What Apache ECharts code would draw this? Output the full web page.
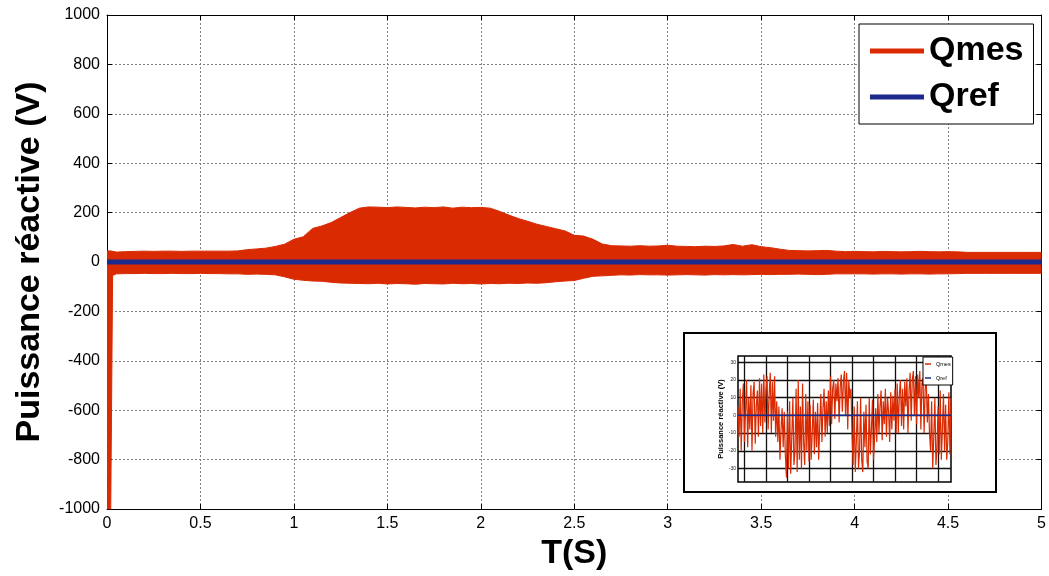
<!DOCTYPE html>
<html>
<head>
<meta charset="utf-8">
<script src="https://cdn.jsdelivr.net/npm/echarts@6/dist/echarts.min.js"></script>
<style>
  html, body { margin: 0; padding: 0; background: #fff; }
  #chart { width: 1049px; height: 576px; }
</style>
</head>
<body>
<div id="chart"></div>
<script>
// Time samples (s) for the envelope of the measured reactive power
const timeS = [0, 0.02, 0.03,
  0.05, 0.10, 0.15, 0.20, 0.25, 0.30, 0.35, 0.40, 0.45, 0.50, 0.55, 0.60, 0.65, 0.70, 0.75, 0.80, 0.85, 0.90, 0.95, 1.00,
  1.05, 1.10, 1.15, 1.20, 1.25, 1.30, 1.35, 1.40, 1.45, 1.50, 1.55, 1.60, 1.65, 1.70, 1.75, 1.80, 1.85, 1.90, 1.95, 2.00,
  2.05, 2.10, 2.15, 2.20, 2.25, 2.30, 2.35, 2.40, 2.45, 2.50, 2.55, 2.60, 2.65, 2.70, 2.75, 2.80, 2.85, 2.90, 2.95, 3.00,
  3.05, 3.10, 3.15, 3.20, 3.25, 3.30, 3.35, 3.40, 3.45, 3.50, 3.55, 3.60, 3.65, 3.70, 3.75, 3.80, 3.85, 3.90, 3.95, 4.00,
  4.05, 4.10, 4.15, 4.20, 4.25, 4.30, 4.35, 4.40, 4.45, 4.50, 4.55, 4.60, 4.65, 4.70, 4.75, 4.80, 4.85, 4.90, 4.95, 5.00];

// Upper and lower peaks of Qmes (the fast oscillation fills the band between them)
const qmesUpper = [45, 45, 42,
  40, 42, 43, 44, 43, 44, 44, 43, 44, 44, 44, 44, 44, 45, 50, 53, 56, 63, 72, 92,
  102, 136, 146, 160, 180, 200, 218, 223, 222, 220, 223, 221, 219, 222, 220, 223, 218, 222, 220, 221,
  218, 205, 190, 176, 165, 153, 144, 135, 126, 108, 105, 92, 73, 66, 65, 64, 66, 64, 65, 68,
  64, 63, 62, 64, 63, 65, 71, 64, 70, 62, 58, 52, 47, 46, 45, 46, 47, 44, 42, 43,
  42, 41, 43, 42, 41, 42, 43, 42, 41, 42, 41, 39, 39, 39, 39, 39, 39, 39, 39, 39];
const qmesLower = [-1000, -1000, -55,
  -48, -47, -47, -46, -47, -47, -46, -47, -47, -46, -47, -47, -48, -48, -50, -49, -50, -52, -60, -70,
  -74, -77, -78, -82, -85, -86, -87, -88, -86, -89, -87, -88, -90, -87, -88, -89, -86, -88, -87, -89,
  -87, -88, -86, -87, -85, -86, -84, -80, -77, -75, -66, -58, -56, -54, -52, -53, -51, -52, -52, -53,
  -52, -51, -52, -53, -51, -52, -51, -52, -51, -50, -51, -50, -50, -49, -50, -51, -50, -48, -48, -48,
  -48, -49, -48, -48, -49, -48, -48, -49, -48, -48, -47, -46, -46, -46, -46, -46, -46, -46, -46, -46];

// Reference reactive power
const qrefT = [0, 5];
const qrefV = [0, 0];

// Zoomed view: Qmes samples and reference
const insetQmes = [
  5, -12, 15, -20, 8, 18, -15, 3, 20, -18, 10, -8, 17, -20, 12, 19, -16, 5, 14, -12,
  21, -6, 18, -10, 23, -4, 15, 22, -8, 12, 24, -10, 19, -3, 22, -12, 8, -15, 5,
  -25, -8, 4, -18, 2, -22,
  -35, 2, -30, 8, -33, -12, 10, -28, -20,
  15, -32, 20, -25, 5, -30, 18, -15, -28, 12, -20, 8, -26,
  6, -25, -10, 9, -22, 2, -18, 7, -25, -5,
  12, -15, 4, 15, -12, 8, -10, 14, -6,
  22, -5, 15, 20, -2, 18, 8, 21, -4, 16, 23, 2, 19,
  25, 0, 24, -8, 20, 10,
  15, -10,
  -28, 5, -32, -15, 8, -30, -20, 10, -25, -32, 2, -18, 6, -26,
  -30, 10, -22, -8, 9, -25, -12, 4,
  -15, 12, -10, 5, 14, -14, 8, -5, 15, -12, 10, 2, -15, 13, -8, 11, -3, 15, -10,
  18, -10, 12, 20, -6, 15, -8, 19, 5, 21, -10, 14,
  24, -3, 20, 25, 0, 22,
  -5, 23, 10, 25, -8, 18, 21, -10, 15, 20, -4, 12, -10,
  -20, 8, -30, -12, 10, -28, -18, 5, -22, 14, -25, -8, 12, -20, 6, -25, -15, 13, -22, 10];
const insetQrefX = [0, 198];
const insetQrefV = [0, 0];
const insetYTicks = [-30, -20, -10, 0, 10, 20, 30];
const insetXGrid = [6, 26, 46, 66, 86, 106, 126, 146, 166, 186];

const FONT = '"Liberation Sans", Arial, Helvetica, sans-serif';
const RED = '#d92a02';
const BLUE = '#1b2a8c';
const zip = (xs, ys) => xs.map((x, i) => [x, ys[i]]);
const plain = v => String(v);

const chart = echarts.init(document.getElementById('chart'), null, { renderer: 'canvas' });

const gridLine = { show: true, lineStyle: { color: '#808080', width: 1, type: [2, 2] } };

const option = {
  animation: false,
  backgroundColor: '#fff',
  textStyle: { fontFamily: FONT },
  grid: [
    { left: 107, right: 6, top: 15, bottom: 65, show: false },
    { left: 738, top: 356, width: 213, height: 126, show: true, borderColor: '#000', borderWidth: 1.5,
      backgroundColor: 'transparent', z: 12 }
  ],
  graphic: [{
    type: 'rect', z: 10,
    shape: { x: 684, y: 333, width: 312, height: 159 },
    style: { fill: '#fff', stroke: '#000', lineWidth: 2 }
  }],
  legend: [
    {
      data: ['Qmes', 'Qref'], orient: 'vertical', left: 859, top: 24,
      padding: [10, 10, 10, 11], itemGap: 12, itemWidth: 54, itemHeight: 5, icon: 'rect',
      backgroundColor: '#fff', borderColor: '#000', borderWidth: 1, selectedMode: false, z: 6,
      textStyle: { fontFamily: FONT, fontSize: 34, lineHeight: 33, fontWeight: 'bold', color: '#000' }
    },
    {
      data: ['Qmes', 'Qref'], orient: 'vertical', left: 923, top: 357,
      padding: [4, 2, 4, 2], itemGap: 8, itemWidth: 6, itemHeight: 1.5, icon: 'rect',
      backgroundColor: '#fff', borderColor: '#000', borderWidth: 1, selectedMode: false, z: 20,
      textStyle: { fontFamily: FONT, fontSize: 5.5, lineHeight: 6, color: '#000' }
    }
  ],
  xAxis: [
    {
      gridIndex: 0, type: 'value', min: 0, max: 5, interval: 0.5, position: 'bottom',
      axisLine: { show: true, onZero: false, lineStyle: { color: '#000', width: 1 } },
      axisTick: { show: true, inside: true, length: 5, lineStyle: { color: '#000' } },
      axisLabel: { fontSize: 16, color: '#000', margin: 7, fontFamily: FONT, formatter: plain },
      splitLine: gridLine,
      name: 'T(S)', nameLocation: 'middle', nameGap: 28,
      nameTextStyle: { fontSize: 34, fontWeight: 'bold', color: '#000', fontFamily: FONT }
    },
    {
      gridIndex: 0, type: 'value', min: 0, max: 5, interval: 0.5, position: 'top',
      axisLine: { show: true, onZero: false, lineStyle: { color: '#000', width: 1 } },
      axisTick: { show: true, inside: true, length: 5, lineStyle: { color: '#000' } },
      axisLabel: { show: false }, splitLine: { show: false }
    },
    {
      gridIndex: 1, type: 'value', min: 0, max: 198, show: false
    }
  ],
  yAxis: [
    {
      gridIndex: 0, type: 'value', min: -1000, max: 1000, interval: 200, position: 'left',
      axisLine: { show: true, onZero: false, lineStyle: { color: '#000', width: 1 } },
      axisTick: { show: true, inside: true, length: 5, lineStyle: { color: '#000' } },
      axisLabel: { fontSize: 16, color: '#000', margin: 7, fontFamily: FONT, formatter: plain },
      splitLine: gridLine,
      name: 'Puissance réactive (V)', nameLocation: 'middle', nameGap: 60, nameRotate: 90,
      nameTextStyle: { fontSize: 34, fontWeight: 'bold', color: '#000', fontFamily: FONT }
    },
    {
      gridIndex: 0, type: 'value', min: -1000, max: 1000, interval: 200, position: 'right',
      axisLine: { show: true, onZero: false, lineStyle: { color: '#000', width: 1 } },
      axisTick: { show: true, inside: true, length: 5, lineStyle: { color: '#000' } },
      axisLabel: { show: false }, splitLine: { show: false }
    },
    {
      gridIndex: 1, type: 'value', min: -37.6, max: 33.5, position: 'left', z: 12,
      axisLine: { show: false },
      axisTick: { show: true, inside: true, length: 2, customValues: insetYTicks, lineStyle: { color: '#000' } },
      axisLabel: { show: true, customValues: insetYTicks, fontSize: 5, margin: 2, color: '#222', fontFamily: FONT },
      splitLine: { show: false },
      name: 'Puissance réactive (V)', nameLocation: 'middle', nameGap: 9, nameRotate: 90,
      nameTextStyle: { fontSize: 7.5, fontWeight: 'bold', color: '#000', fontFamily: FONT }
    }
  ],
  series: [
    {
      name: 'Qmes', type: 'line', xAxisIndex: 0, yAxisIndex: 0, z: 2,
      data: zip(timeS, qmesUpper), showSymbol: false, symbol: 'none',
      color: RED, lineStyle: { color: RED, width: 1 }, areaStyle: { color: RED, opacity: 1 },
      emphasis: { disabled: true }
    },
    {
      name: 'Qmes', type: 'line', xAxisIndex: 0, yAxisIndex: 0, z: 2,
      data: zip(timeS, qmesLower), showSymbol: false, symbol: 'none',
      color: RED, lineStyle: { color: RED, width: 1 }, areaStyle: { color: RED, opacity: 1 },
      emphasis: { disabled: true }
    },
    {
      name: 'Qref', type: 'line', xAxisIndex: 0, yAxisIndex: 0, z: 3,
      data: zip(qrefT, qrefV), showSymbol: false, symbol: 'none',
      color: BLUE, lineStyle: { color: BLUE, width: 5 },
      emphasis: { disabled: true }
    },
    {
      name: 'insetGrid', type: 'line', xAxisIndex: 2, yAxisIndex: 2, z: 12,
      data: [[0, 0]], showSymbol: false, symbol: 'none', silent: true,
      lineStyle: { width: 0, opacity: 0 },
      markLine: {
        z: 12, silent: true, symbol: 'none', animation: false, label: { show: false },
        emphasis: { disabled: true },
        lineStyle: { color: '#111', width: 1.3, type: 'solid' },
        data: insetYTicks.map(v => ({ yAxis: v })).concat(insetXGrid.map(v => ({ xAxis: v })))
      }
    },
    {
      name: 'Qmes', type: 'line', xAxisIndex: 2, yAxisIndex: 2, z: 13,
      data: insetQmes.map((v, i) => [i, v]), showSymbol: false, symbol: 'none',
      color: RED, lineStyle: { color: RED, width: 1.2 },
      emphasis: { disabled: true }
    },
    {
      name: 'Qref', type: 'line', xAxisIndex: 2, yAxisIndex: 2, z: 14,
      data: zip(insetQrefX, insetQrefV), showSymbol: false, symbol: 'none',
      color: BLUE, lineStyle: { color: BLUE, width: 1.5 },
      emphasis: { disabled: true }
    }
  ]
};

chart.setOption(option);
</script>
</body>
</html>
